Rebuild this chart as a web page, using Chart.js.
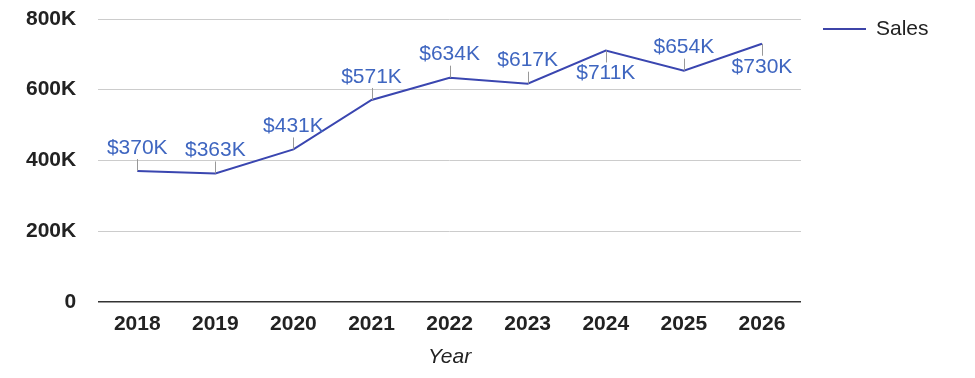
<!DOCTYPE html>
<html>
<head>
<meta charset="utf-8">
<script src="https://cdn.jsdelivr.net/npm/chart.js@4"></script>
<style>
  html, body { margin: 0; padding: 0; background: #fff; }
  #wrap { position: relative; width: 975px; height: 378px; }
  #legend { position: absolute; left: 823px; top: 16px; font: 21px "Liberation Sans", Arial, sans-serif; color: #222; }
  #legend span.line { display: inline-block; width: 43px; height: 2px; background: #3d44a8; vertical-align: middle; margin-right: 10px; }
</style>
</head>
<body>
<div id="wrap">
  <canvas id="chart" width="975" height="378"></canvas>
  <div id="legend"><span class="line"></span><span class="lbl">Sales</span></div>
</div>
<script>
// chart data
const years = ['2018', '2019', '2020', '2021', '2022', '2023', '2024', '2025', '2026'];
const sales = [370000, 363000, 431000, 571000, 634000, 617000, 711000, 654000, 730000];
// where the value label sits (up = above the point)
const labelSide = ['up', 'up', 'up', 'up', 'up', 'up', 'down', 'up', 'down'];
const yTicks = [0, 200000, 400000, 600000, 800000];

const FONT = '"Liberation Sans", Arial, sans-serif';
const lineColor = '#3a46b0';
const labelColor = '#3f66c0';

// draws "$xxxK" labels with a small leader line
const valueLabels = {
    id: 'valueLabels',
    afterDatasetsDraw(chart) {
        const ctx = chart.ctx;
        const meta = chart.getDatasetMeta(0);
        ctx.save();
        ctx.font = '21px ' + FONT;
        ctx.textAlign = 'center';
        ctx.textBaseline = 'middle';
        meta.data.forEach(function(pt, i) {
            let dir = labelSide[i] === 'down' ? 1 : -1;
            ctx.strokeStyle = '#999';
            ctx.lineWidth = 1;
            ctx.beginPath();
            ctx.moveTo(Math.round(pt.x) + 0.5, pt.y);
            ctx.lineTo(Math.round(pt.x) + 0.5, pt.y + dir * 12);
            ctx.stroke();
            ctx.fillStyle = labelColor;
            ctx.fillText('$' + Math.round(sales[i] / 1000) + 'K', pt.x, pt.y + dir * 23);
        });
        ctx.restore();
    }
};

const ctx = document.getElementById('chart').getContext('2d');
const chart = new Chart(ctx, {
    type: 'line',
    data: {
        labels: years,
        datasets: [{
            label: 'Sales',
            data: sales,
            borderColor: lineColor,
            backgroundColor: lineColor,
            borderWidth: 2,
            pointRadius: 0,
            tension: 0,
            fill: false
        }]
    },
    options: {
        responsive: false,
        animation: false,
        layout: { padding: { left: 26, right: 174, top: 19, bottom: 10 } },
        plugins: {
            legend: { display: false },
            tooltip: { enabled: false }
        },
        scales: {
            x: {
                offset: true,
                grid: { display: false, drawTicks: false },
                border: { display: false },
                ticks: {
                    padding: 10,
                    color: '#222',
                    font: { family: FONT, size: 21, weight: 'bold' }
                },
                title: {
                    display: true,
                    text: 'Year',
                    color: '#222',
                    padding: { top: 0, bottom: 0 },
                    font: { family: FONT, size: 21, style: 'italic', lineHeight: 1 }
                }
            },
            y: {
                min: 0,
                max: 800000,
                afterBuildTicks(scale) {
                    scale.ticks = yTicks.map(v => ({ value: v }));
                },
                grid: {
                    drawTicks: true,
                    tickLength: 22,
                    tickColor: 'rgba(0,0,0,0)',
                    color: ctx => ctx.tick.value === 0 ? '#333' : '#ccc',
                    lineWidth: ctx => ctx.tick.value === 0 ? 1.5 : 1
                },
                border: { display: false },
                ticks: {
                    padding: 0,
                    color: '#222',
                    font: { family: FONT, size: 21, weight: 'bold' },
                    callback: v => v === 0 ? '0' : (v / 1000) + 'K'
                }
            }
        }
    },
    plugins: [valueLabels]
});
</script>
</body>
</html>
